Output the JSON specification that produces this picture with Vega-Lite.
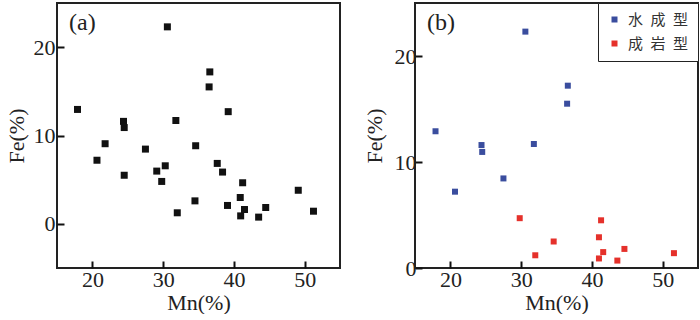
{
  "$schema": "https://vega.github.io/schema/vega-lite/v6.json",
  "autosize": {"type": "pad"},
  "padding": {"left": 4, "top": 1, "right": 0, "bottom": 0},
  "background": "white",
  "spacing": 75,
  "bounds": "flush",
  "resolve": {"scale": {"color": "independent"}, "legend": {"color": "independent"}},
  "config": {
    "view": {"stroke": "#222", "strokeWidth": 2},
    "font": "Liberation Serif",
    "axis": {
      "domain": false,
      "grid": false,
      "ticks": true,
      "tickSize": -7,
      "zindex": 1,
      "tickColor": "#111",
      "tickWidth": 2,
      "labelFont": "Liberation Serif",
      "labelFontSize": 22,
      "labelColor": "#222",
      "titleFont": "Liberation Serif",
      "titleFontSize": 22,
      "titleFontWeight": "normal",
      "titleColor": "#222"
    },
    "title": {"font": "Liberation Serif", "fontSize": 24, "fontWeight": "normal", "color": "#222"}
  },
  "datasets": {
    "all": [
      {"Mn": 17.9, "Fe": 12.95},
      {"Mn": 20.65, "Fe": 7.2},
      {"Mn": 21.8, "Fe": 9.07},
      {"Mn": 24.4, "Fe": 11.6},
      {"Mn": 24.5, "Fe": 10.9},
      {"Mn": 24.5, "Fe": 5.5},
      {"Mn": 27.5, "Fe": 8.46},
      {"Mn": 29.1, "Fe": 5.97},
      {"Mn": 29.8, "Fe": 4.8},
      {"Mn": 30.3, "Fe": 6.57},
      {"Mn": 30.6, "Fe": 22.3},
      {"Mn": 31.8, "Fe": 11.7},
      {"Mn": 32.0, "Fe": 1.25},
      {"Mn": 34.6, "Fe": 8.84},
      {"Mn": 34.5, "Fe": 2.6},
      {"Mn": 36.5, "Fe": 15.5},
      {"Mn": 36.6, "Fe": 17.2},
      {"Mn": 37.65, "Fe": 6.84},
      {"Mn": 38.4, "Fe": 5.86},
      {"Mn": 39.2, "Fe": 12.7},
      {"Mn": 39.1, "Fe": 2.08},
      {"Mn": 40.9, "Fe": 2.98},
      {"Mn": 40.96, "Fe": 0.9},
      {"Mn": 41.24, "Fe": 4.65},
      {"Mn": 41.5, "Fe": 1.62},
      {"Mn": 43.5, "Fe": 0.76},
      {"Mn": 44.5, "Fe": 1.85},
      {"Mn": 49.1, "Fe": 3.8},
      {"Mn": 51.25, "Fe": 1.43}
    ],
    "typed": [
      {"Mn": 17.9, "Fe": 12.9, "type": "水成型"},
      {"Mn": 20.65, "Fe": 7.2, "type": "水成型"},
      {"Mn": 24.4, "Fe": 11.6, "type": "水成型"},
      {"Mn": 24.5, "Fe": 10.95, "type": "水成型"},
      {"Mn": 27.5, "Fe": 8.45, "type": "水成型"},
      {"Mn": 30.6, "Fe": 22.3, "type": "水成型"},
      {"Mn": 31.8, "Fe": 11.7, "type": "水成型"},
      {"Mn": 36.5, "Fe": 15.5, "type": "水成型"},
      {"Mn": 36.6, "Fe": 17.2, "type": "水成型"},
      {"Mn": 29.8, "Fe": 4.7, "type": "成岩型"},
      {"Mn": 32.0, "Fe": 1.2, "type": "成岩型"},
      {"Mn": 34.6, "Fe": 2.5, "type": "成岩型"},
      {"Mn": 41.0, "Fe": 2.9, "type": "成岩型"},
      {"Mn": 41.3, "Fe": 4.5, "type": "成岩型"},
      {"Mn": 41.0, "Fe": 0.9, "type": "成岩型"},
      {"Mn": 41.6, "Fe": 1.5, "type": "成岩型"},
      {"Mn": 43.6, "Fe": 0.7, "type": "成岩型"},
      {"Mn": 44.6, "Fe": 1.8, "type": "成岩型"},
      {"Mn": 51.6, "Fe": 1.4, "type": "成岩型"}
    ]
  },
  "hconcat": [
    {
      "width": 283,
      "height": 265,
      "data": {"name": "all"},
      "title": {"text": "(a)", "anchor": "start", "frame": "group", "orient": "none", "baseline": "alphabetic", "align": "left", "dx": 12, "dy": 27},
      "mark": {"type": "square", "size": 49, "color": "#111", "opacity": 1},
      "encoding": {
        "x": {"field": "Mn", "type": "quantitative", "title": "Mn(%)",
              "scale": {"domain": [15, 55], "nice": false, "zero": false},
              "axis": {"values": [20, 30, 40, 50], "labelPadding": 8, "titlePadding": 2}},
        "y": {"field": "Fe", "type": "quantitative", "title": "Fe(%)",
              "scale": {"domain": [-5, 25], "nice": false, "zero": false},
              "axis": {"values": [0, 10, 20], "labelPadding": 9, "titlePadding": 5}}
      }
    },
    {
      "width": 283,
      "height": 265,
      "data": {"name": "typed"},
      "title": {"text": "(b)", "anchor": "start", "frame": "group", "orient": "none", "baseline": "alphabetic", "align": "left", "dx": 12, "dy": 27},
      "mark": {"type": "square", "size": 36, "opacity": 1},
      "encoding": {
        "x": {"field": "Mn", "type": "quantitative", "title": "Mn(%)",
              "scale": {"domain": [15, 55], "nice": false, "zero": false},
              "axis": {"values": [20, 30, 40, 50], "labelPadding": 8, "titlePadding": 2}},
        "y": {"field": "Fe", "type": "quantitative", "title": "Fe(%)",
              "scale": {"domain": [0, 25], "nice": false, "zero": false},
              "axis": {"values": [0, 10, 20], "labelPadding": 6, "titlePadding": 8}},
        "color": {"field": "type", "type": "nominal", "title": null,
                  "scale": {"domain": ["水成型", "成岩型"], "range": ["#3a4d9e", "#e5312b"]},
                  "legend": {
                    "orient": "top-right", "offset": 0,
                    "strokeColor": "#222", "fillColor": "white",
                    "padding": 9, "rowPadding": 8,
                    "symbolType": "square", "symbolSize": 36, "symbolStrokeWidth": 0,
                    "labelFont": "Noto Sans CJK SC", "labelFontSize": 15, "labelColor": "#333",
                    "labelOffset": 6,
                    "labelExpr": "join(split(datum.label, ''), '\u2002')"
                  }}
      }
    }
  ]
}
